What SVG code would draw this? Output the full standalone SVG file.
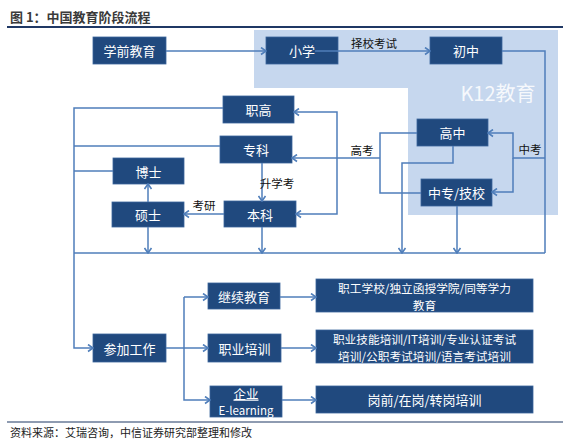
<svg xmlns="http://www.w3.org/2000/svg" width="570" height="445" viewBox="0 0 570 445">
<defs>
<style>
.n{fill:#20497E;stroke:#3B659C;stroke-width:0.8}
.t{font-family:"Noto Sans CJK SC","Liberation Sans",sans-serif;font-size:13px;fill:#FFFFFF;text-anchor:middle;dominant-baseline:central}
.t2{font-size:12.5px}
.t3{font-size:11.7px}
.l{font-family:"Noto Sans CJK SC","Liberation Sans",sans-serif;font-size:11.5px;fill:#111111;text-anchor:middle;dominant-baseline:central}
.c{fill:none;stroke:#4F7EBA;stroke-width:1.5}
.a{marker-end:url(#arr)}
</style>
<marker id="arr" markerUnits="userSpaceOnUse" markerWidth="9" markerHeight="9" viewBox="0 0 9 9" refX="8" refY="4.5" orient="auto">
<path d="M3,1 L8,4.5 L3,8" fill="none" stroke="#4F7EBA" stroke-width="1.6"/>
</marker>
</defs>
<rect width="570" height="445" fill="#FFFFFF"/>
<text x="10" y="22" font-family="'Noto Sans CJK SC','Liberation Sans',sans-serif" font-size="13" font-weight="bold" fill="#3A3A3A">图 1：中国教育阶段流程</text>
<line x1="7" y1="27" x2="563" y2="27" stroke="#1F3864" stroke-width="2"/>
<path d="M254,30 H558 V215 H408 V88 H254 Z" fill="#C6D7EE"/>
<text x="498" y="92" font-family="'Noto Sans CJK SC','Liberation Sans',sans-serif" font-size="20" fill="#FFFFFF" fill-opacity="0.85" text-anchor="middle" dominant-baseline="central">K12教育</text>

<g id="n-xueqian"><rect class="n" x="93" y="37" width="73" height="27"/><text class="t" x="129.5" y="50.5">学前教育</text></g>
<g id="n-xiaoxue"><rect class="n" x="266" y="37" width="72" height="27"/><text class="t" x="302" y="50.5">小学</text></g>
<g id="n-chuzhong"><rect class="n" x="430" y="37" width="72" height="27"/><text class="t" x="466" y="50.5">初中</text></g>
<g id="n-gaozhong"><rect class="n" x="417" y="119" width="71" height="27"/><text class="t" x="452.5" y="132.5">高中</text></g>
<g id="n-zhongzhuan"><rect class="n" x="421" y="179" width="71" height="27"/><text class="t" x="456.5" y="192.5">中专/技校</text></g>
<g id="n-zhigao"><rect class="n" x="223" y="96" width="71" height="27"/><text class="t" x="258.5" y="109.5">职高</text></g>
<g id="n-zhuanke"><rect class="n" x="220" y="136" width="72" height="27"/><text class="t" x="256" y="149.5">专科</text></g>
<g id="n-boshi"><rect class="n" x="113" y="158" width="71" height="26"/><text class="t" x="148.5" y="171">博士</text></g>
<g id="n-shuoshi"><rect class="n" x="112" y="202" width="72" height="25"/><text class="t" x="148" y="214.5">硕士</text></g>
<g id="n-benke"><rect class="n" x="224" y="201" width="72" height="26"/><text class="t" x="260" y="214">本科</text></g>
<g id="n-gongzuo"><rect class="n" x="93" y="334" width="73" height="28"/><text class="t" x="129.5" y="348">参加工作</text></g>
<g id="n-jixu"><rect class="n" x="208" y="283" width="72" height="26"/><text class="t" x="244" y="296">继续教育</text></g>
<g id="n-zhiye"><rect class="n" x="208" y="334" width="73" height="28"/><text class="t" x="244.5" y="348">职业培训</text></g>
<g id="n-qiye"><rect class="n" x="210" y="386" width="72" height="31"/><text class="t t2" x="246" y="393" text-decoration="underline">企业</text><text class="t" x="246" y="410" style="font-size:11.5px">E-learning</text></g>
<g id="n-jixu-d"><rect class="n" x="316" y="279" width="217" height="33"/><text class="t t3" x="424.5" y="287">职工学校/独立函授学院/同等学力</text><text class="t t3" x="424.5" y="304">教育</text></g>
<g id="n-zhiye-d"><rect class="n" x="316" y="330" width="217" height="33"/><text class="t t3" x="424.5" y="338">职业技能培训/IT培训/专业认证考试</text><text class="t t3" x="424.5" y="355">培训/公职考试培训/语言考试培训</text></g>
<g id="n-qiye-d"><rect class="n" x="316" y="386" width="217" height="27"/><text class="t" x="424.5" y="399.5">岗前/在岗/转岗培训</text></g>

<g id="connectors">
<path class="c a" d="M166,51 H266"/>
<path class="c a" d="M315,51 H430"/>
<path class="c" d="M502,51 H545 V253"/>
<path class="c a" d="M545,158 H513 V133 H488"/>
<path class="c a" d="M513,158 V192 H492"/>
<path class="c" d="M417,133 H380 V193 H421"/>
<path class="c a" d="M380,158 H292"/>
<path class="c a" d="M337,158 V112 H294"/>
<path class="c a" d="M337,158 V214 H296"/>
<path class="c a" d="M453,146 V163 H402 V253"/>
<path class="c a" d="M457,206 V253"/>
<path class="c" d="M74,253 H545"/>
<path class="c a" d="M223,108 H74 V348 H93"/>
<path class="c" d="M220,146 H74"/>
<path class="c" d="M113,171 H74"/>
<path class="c a" d="M262,163 V201"/>
<path class="c a" d="M224,214 H184"/>
<path class="c a" d="M148,202 V184"/>
<path class="c a" d="M148,227 V253"/>
<path class="c a" d="M262,227 V253"/>
<path class="c" d="M166,348 H184"/>
<path class="c a" d="M184,297 V400 H210"/>
<path class="c a" d="M184,297 H208"/>
<path class="c a" d="M184,348 H208"/>
<path class="c a" d="M280,297 H316"/>
<path class="c a" d="M281,348 H316"/>
<path class="c a" d="M282,400 H316"/>
</g>
<g id="labels">
<text class="l" x="374" y="43">择校考试</text>
<text class="l" x="530" y="149">中考</text>
<text class="l" x="362" y="150">高考</text>
<text class="l" x="277" y="183">升学考</text>
<text class="l" x="204" y="205">考研</text>
</g>
<line x1="7" y1="422" x2="563" y2="422" stroke="#1F3864" stroke-width="1.2"/>
<text x="10" y="437" font-family="'Noto Sans CJK SC','Liberation Sans',sans-serif" font-size="11" fill="#222222">资料来源：艾瑞咨询，中信证券研究部整理和修改</text>
</svg>
